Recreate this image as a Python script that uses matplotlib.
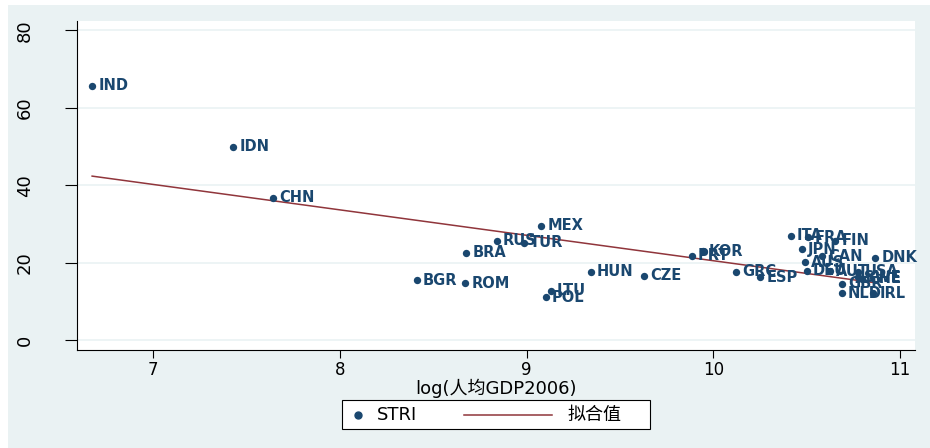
import numpy as np
import matplotlib
matplotlib.use("Agg")
import matplotlib.pyplot as plt
from matplotlib.patches import Rectangle
from matplotlib.lines import Line2D

# STRI vs log GDP per capita 2006
countries = ["IND", "IDN", "CHN", "MEX", "RUS", "TUR", "BRA", "BGR", "ROM",
             "LTU", "POL", "HUN", "CZE", "PRT", "KOR", "GRC", "ESP", "ITA",
             "FRA", "FIN", "JPN", "CAN", "DNK", "AUS", "DEU", "AUT", "USA",
             "GBR", "SWE", "CHE", "NLD", "IRL"]
log_gdp = [6.672, 7.427, 7.641, 9.077, 8.839, 8.986, 8.676, 8.411, 8.671,
           9.129, 9.102, 9.343, 9.628, 9.884, 9.943, 10.121, 10.250, 10.414,
           10.507, 10.651, 10.473, 10.582, 10.866, 10.491, 10.500, 10.624, 10.774,
           10.687, 10.774, 10.795, 10.687, 10.855]
stri = [65.7, 50.0, 36.8, 29.5, 25.6, 25.1, 22.5, 15.5, 14.7,
        12.7, 11.0, 17.6, 16.6, 21.8, 23.0, 17.7, 16.2, 27.0,
        26.5, 25.6, 23.5, 21.7, 21.3, 20.1, 17.9, 17.8, 17.6,
        14.5, 16.2, 15.8, 12.1, 12.1]
x_ticks = [7, 8, 9, 10, 11]
y_ticks = [0, 20, 40, 60, 80]

navy = "#1A476F"
maroon = "#90353B"
bg = "#EAF2F3"

plt.rcParams['font.family'] = ['DejaVu Sans', 'Noto Sans CJK SC']

W, H = 930, 448
fig = plt.figure(figsize=(W / 100, H / 100), dpi=100)
fig.patch.set_facecolor("white")
fig.patches.append(Rectangle((8 / W, 0), 1, 1 - 5 / H, transform=fig.transFigure,
                             facecolor=bg, edgecolor="none", zorder=-10))

ax = fig.add_axes([77 / W, 1 - 350 / H, (915 - 77) / W, (350 - 21) / H])
ax.set_facecolor("white")

x = np.array(log_gdp)
y = np.array(stri)
ax.scatter(x, y, s=28, color=navy, zorder=3, linewidths=0)
for c, xi, yi in zip(countries, x, y):
    ax.annotate(c, (xi, yi), xytext=(4.5, 0), textcoords="offset points",
                va="center", ha="left", fontsize=10.5, fontweight="bold",
                color=navy, zorder=4)

# linear fit
b, a = np.polyfit(x, y, 1)
xs = np.array([x.min(), x.max()])
ax.plot(xs, a + b * xs, color=maroon, lw=1.1, zorder=2)

ax.set_xlim(6.591, 11.080)
ax.set_ylim(-2.58, 82.45)
ax.set_xticks(x_ticks)
ax.set_yticks(y_ticks)
ax.yaxis.grid(True, color=bg, lw=1.2)
ax.set_axisbelow(True)
for s in ["top", "right"]:
    ax.spines[s].set_visible(False)
ax.tick_params(axis="y", length=9, labelsize=13, rotation=90, pad=22)
ax.tick_params(axis="x", length=6, labelsize=12, pad=2)
for lab in ax.get_yticklabels():
    lab.set_va("center")
ax.set_xlabel("log(人均GDP2006)", fontsize=13, labelpad=0)

# legend box drawn in figure pixels
def fx(px):
    return px / W

def fy(py):
    return 1 - py / H

fig.patches.append(Rectangle((fx(342), fy(429)), fx(650) - fx(342), fy(400) - fy(429),
                             transform=fig.transFigure, facecolor="white",
                             edgecolor="black", lw=0.8))
ly = fy(414.5)
fig.lines.append(Line2D([fx(358)], [ly], transform=fig.transFigure, marker="o",
                        markersize=5, color=navy, ls="none"))
fig.text(fx(377), ly, "STRI", fontsize=13, va="center", ha="left")
fig.lines.append(Line2D([fx(464), fx(552)], [ly, ly], transform=fig.transFigure,
                        color=maroon, lw=1.1))
fig.text(fx(567), ly, "拟合值", fontsize=13, va="center", ha="left")

fig.savefig("out.png", dpi=100, facecolor=fig.get_facecolor())
